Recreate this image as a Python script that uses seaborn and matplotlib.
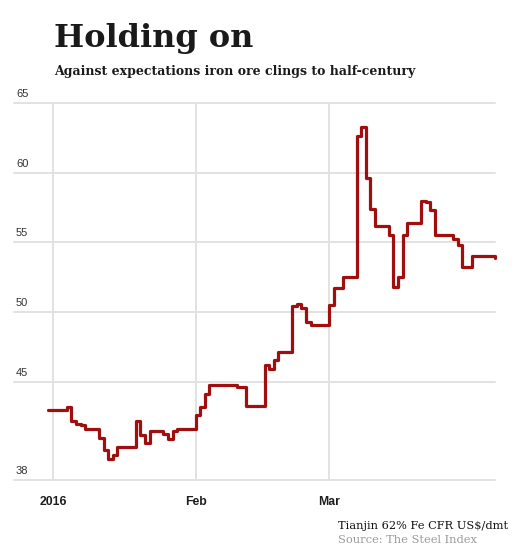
import matplotlib
matplotlib.use("Agg")
import matplotlib.pyplot as plt
import matplotlib.transforms as mtransforms
import seaborn as sns
import pandas as pd

# ---- data (change points of the daily step series) ----
dates = ["2015-12-31", "2016-01-04", "2016-01-05", "2016-01-06", "2016-01-07",
         "2016-01-08", "2016-01-11", "2016-01-12", "2016-01-13", "2016-01-14",
         "2016-01-15", "2016-01-19", "2016-01-20", "2016-01-21", "2016-01-22",
         "2016-01-25", "2016-01-26", "2016-01-27", "2016-01-28", "2016-02-01",
         "2016-02-02", "2016-02-03", "2016-02-04", "2016-02-10", "2016-02-12",
         "2016-02-16", "2016-02-17", "2016-02-18", "2016-02-19", "2016-02-22",
         "2016-02-23", "2016-02-24", "2016-02-25", "2016-02-26", "2016-03-01",
         "2016-03-02", "2016-03-04", "2016-03-07", "2016-03-08", "2016-03-09",
         "2016-03-10", "2016-03-11", "2016-03-14", "2016-03-15", "2016-03-16",
         "2016-03-17", "2016-03-18", "2016-03-21", "2016-03-22", "2016-03-23",
         "2016-03-24", "2016-03-28", "2016-03-29", "2016-03-30", "2016-04-01",
         "2016-04-06"]
prices = [43.0, 43.2, 42.2, 42.0, 41.9,
          41.65, 41.0, 40.15, 39.45, 39.75,
          40.3, 42.2, 41.2, 40.6, 41.45,
          41.25, 40.9, 41.45, 41.65, 42.65,
          43.2, 44.1, 44.8, 44.6, 43.3,
          46.2, 45.9, 46.6, 47.15, 50.45,
          50.55, 50.3, 49.3, 49.1, 50.5,
          51.7, 52.5, 62.65, 63.3, 59.65,
          57.4, 56.2, 55.55, 51.8, 52.55,
          55.5, 56.4, 58.0, 57.9, 57.3,
          55.55, 55.25, 54.8, 53.25, 54.05,
          53.9]

y_ticks = [38, 45, 50, 55, 60, 65]
x_tick_dates = ["2016-01-01", "2016-02-01", "2016-03-01"]
x_tick_labels = ["2016", "Feb", "Mar"]

title = "Holding on"
subtitle = "Against expectations iron ore clings to half-century"
unit_note = "Tianjin 62% Fe CFR US$/dmt"
source_note = "Source: The Steel Index"

df = pd.DataFrame({"date": pd.to_datetime(dates), "price": prices})

sns.set_style("white")
plt.rcParams["font.family"] = ["Liberation Sans", "DejaVu Sans"]

W, H = 527, 555
fig = plt.figure(figsize=(W / 100, H / 100), dpi=100)
left_px, right_px, top_px, bottom_px = 14, 495, 103, 479.5
ax = fig.add_axes([left_px / W, 1 - bottom_px / H,
                   (right_px - left_px) / W, (bottom_px - top_px) / H])

grid_col = "#e2e2e2"
sns.lineplot(data=df, x="date", y="price", ax=ax, estimator=None,
             drawstyle="steps-post", color="#a00f0f", linewidth=2.3,
             zorder=5, clip_on=False)

ax.set_xlim(pd.Timestamp("2015-12-23 12:00"), pd.Timestamp("2016-04-06 02:00"))
ax.set_ylim(38, 65)
for s in ax.spines.values():
    s.set_visible(False)

ax.set_xticks(pd.to_datetime(x_tick_dates))
ax.set_xticklabels(x_tick_labels)
ax.set_yticks(y_ticks)
ax.set_yticklabels([])
ax.tick_params(axis="both", length=0)
ax.tick_params(axis="x", pad=12, labelsize=8.8, labelcolor="#1e1e1e")
for lab in ax.get_xticklabels():
    lab.set_fontweight("bold")

for v in y_ticks:
    ax.axhline(v, color=grid_col, lw=1.4, zorder=1, clip_on=False)
for d in pd.to_datetime(x_tick_dates):
    ax.axvline(d, color=grid_col, lw=1.4, zorder=1, clip_on=False)

base = mtransforms.blended_transform_factory(ax.transAxes, ax.transData)
lab_tr = mtransforms.offset_copy(base, fig=fig, x=2, y=4, units="dots")
for v in y_ticks:
    ax.text(0, v, str(v), transform=lab_tr, ha="left", va="bottom",
            fontsize=8, color="#333333")
ax.set_xlabel("")
ax.set_ylabel("")

serif = ["DejaVu Serif"]
fig.text(54 / W, 1 - 46.7 / H, title, family=serif, fontsize=23,
         fontweight="bold", color="#1a1a1a", va="baseline", ha="left")
fig.text(54 / W, 1 - 75 / H, subtitle, family=serif, fontsize=9.0,
         fontweight="bold", color="#1a1a1a", va="baseline", ha="left")
fig.text(338 / W, 1 - 529 / H, unit_note, family=serif, fontsize=8.2,
         color="#111111", va="baseline", ha="left")
fig.text(338 / W, 1 - 542.7 / H, source_note, family=serif, fontsize=8.2,
         color="#9a9a9a", va="baseline", ha="left")

fig.savefig("out.png", dpi=100)
